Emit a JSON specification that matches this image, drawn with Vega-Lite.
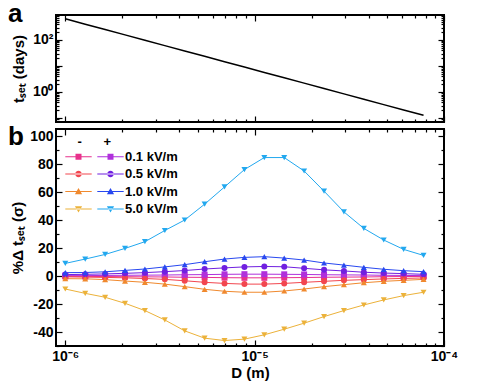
{
  "$schema": "https://vega.github.io/schema/vega-lite/v6.json",
  "padding": {"left": 7, "top": 0, "right": 5, "bottom": 5},
  "spacing": 7,
  "bounds": "flush",
  "config": {
    "font": "Liberation Sans",
    "view": {"stroke": "black", "strokeWidth": 2},
    "axis": {"domain": false, "grid": false, "labelFont": "Liberation Sans", "labelFontSize": 14, "labelFontWeight": "bold", "labelColor": "black", "titleFont": "Liberation Sans", "titleFontSize": 15, "titleFontWeight": "bold", "titleColor": "black", "tickColor": "black", "tickWidth": 1.2, "labelPadding": 9, "labelFlush": false},
    "title": {"font": "Liberation Sans", "fontSize": 26, "fontWeight": "bold", "anchor": "start", "frame": "group", "baseline": "alphabetic", "color": "black"},
    "legend": {"orient": "top-left", "offset": 7, "columns": 2, "columnPadding": 2, "rowPadding": 3.5, "padding": 0,
      "titleFont": "Liberation Sans", "titleFontSize": 13, "titleFontWeight": "bold", "titleColor": "black", "titlePadding": 1,
      "labelFont": "Liberation Sans", "labelFontSize": 13, "labelFontWeight": "bold", "labelColor": "black", "labelOffset": 8,
      "symbolSize": 36, "symbolStrokeWidth": 0, "symbolOffset": 9}
  },
  "datasets": {
    "top": [
      {"D": 1.000e-6, "t": 650}, {"D": 1.274e-6, "t": 404.6}, {"D": 1.623e-6, "t": 251.8}, {"D": 2.067e-6, "t": 156.7}, {"D": 2.633e-6, "t": 97.5}, {"D": 3.354e-6, "t": 60.6}, {"D": 4.272e-6, "t": 37.7}, {"D": 5.442e-6, "t": 23.5}, {"D": 6.932e-6, "t": 14.6}, {"D": 8.830e-6, "t": 9.08}, {"D": 1.1248e-5, "t": 5.65}, {"D": 1.4327e-5, "t": 3.52}, {"D": 1.825e-5, "t": 2.19}, {"D": 2.325e-5, "t": 1.36}, {"D": 2.961e-5, "t": 0.847}, {"D": 3.772e-5, "t": 0.526}, {"D": 4.805e-5, "t": 0.327}, {"D": 6.121e-5, "t": 0.204}, {"D": 7.797e-5, "t": 0.127}
    ],
    "bot": [
      {"s": "0.1-", "D": 1.000e-6, "v": -0.3}, {"s": "0.1-", "D": 1.274e-6, "v": -0.3}, {"s": "0.1-", "D": 1.623e-6, "v": -0.4}, {"s": "0.1-", "D": 2.067e-6, "v": -0.5}, {"s": "0.1-", "D": 2.633e-6, "v": -0.6}, {"s": "0.1-", "D": 3.354e-6, "v": -0.7}, {"s": "0.1-", "D": 4.272e-6, "v": -0.9}, {"s": "0.1-", "D": 5.442e-6, "v": -1.0}, {"s": "0.1-", "D": 6.932e-6, "v": -1.2}, {"s": "0.1-", "D": 8.830e-6, "v": -1.3}, {"s": "0.1-", "D": 1.1248e-5, "v": -1.3}, {"s": "0.1-", "D": 1.4327e-5, "v": -1.2}, {"s": "0.1-", "D": 1.825e-5, "v": -1.1}, {"s": "0.1-", "D": 2.325e-5, "v": -0.9}, {"s": "0.1-", "D": 2.961e-5, "v": -0.8}, {"s": "0.1-", "D": 3.772e-5, "v": -0.7}, {"s": "0.1-", "D": 4.805e-5, "v": -0.5}, {"s": "0.1-", "D": 6.121e-5, "v": -0.4}, {"s": "0.1-", "D": 7.797e-5, "v": -0.3},
      {"s": "0.1+", "D": 1.000e-6, "v": 0.3}, {"s": "0.1+", "D": 1.274e-6, "v": 0.3}, {"s": "0.1+", "D": 1.623e-6, "v": 0.4}, {"s": "0.1+", "D": 2.067e-6, "v": 0.5}, {"s": "0.1+", "D": 2.633e-6, "v": 0.6}, {"s": "0.1+", "D": 3.354e-6, "v": 0.7}, {"s": "0.1+", "D": 4.272e-6, "v": 0.9}, {"s": "0.1+", "D": 5.442e-6, "v": 1.0}, {"s": "0.1+", "D": 6.932e-6, "v": 1.2}, {"s": "0.1+", "D": 8.830e-6, "v": 1.3}, {"s": "0.1+", "D": 1.1248e-5, "v": 1.3}, {"s": "0.1+", "D": 1.4327e-5, "v": 1.2}, {"s": "0.1+", "D": 1.825e-5, "v": 1.1}, {"s": "0.1+", "D": 2.325e-5, "v": 0.9}, {"s": "0.1+", "D": 2.961e-5, "v": 0.8}, {"s": "0.1+", "D": 3.772e-5, "v": 0.7}, {"s": "0.1+", "D": 4.805e-5, "v": 0.5}, {"s": "0.1+", "D": 6.121e-5, "v": 0.4}, {"s": "0.1+", "D": 7.797e-5, "v": 0.3},
      {"s": "0.5-", "D": 1.000e-6, "v": -0.6}, {"s": "0.5-", "D": 1.274e-6, "v": -0.8}, {"s": "0.5-", "D": 1.623e-6, "v": -1.0}, {"s": "0.5-", "D": 2.067e-6, "v": -1.3}, {"s": "0.5-", "D": 2.633e-6, "v": -1.8}, {"s": "0.5-", "D": 3.354e-6, "v": -2.4}, {"s": "0.5-", "D": 4.272e-6, "v": -3.4}, {"s": "0.5-", "D": 5.442e-6, "v": -4.5}, {"s": "0.5-", "D": 6.932e-6, "v": -5.3}, {"s": "0.5-", "D": 8.830e-6, "v": -5.8}, {"s": "0.5-", "D": 1.1248e-5, "v": -5.8}, {"s": "0.5-", "D": 1.4327e-5, "v": -5.3}, {"s": "0.5-", "D": 1.825e-5, "v": -4.5}, {"s": "0.5-", "D": 2.325e-5, "v": -3.8}, {"s": "0.5-", "D": 2.961e-5, "v": -3.1}, {"s": "0.5-", "D": 3.772e-5, "v": -2.6}, {"s": "0.5-", "D": 4.805e-5, "v": -2.1}, {"s": "0.5-", "D": 6.121e-5, "v": -1.7}, {"s": "0.5-", "D": 7.797e-5, "v": -1.4},
      {"s": "0.5+", "D": 1.000e-6, "v": 1.0}, {"s": "0.5+", "D": 1.274e-6, "v": 1.2}, {"s": "0.5+", "D": 1.623e-6, "v": 1.5}, {"s": "0.5+", "D": 2.067e-6, "v": 1.9}, {"s": "0.5+", "D": 2.633e-6, "v": 2.4}, {"s": "0.5+", "D": 3.354e-6, "v": 3.1}, {"s": "0.5+", "D": 4.272e-6, "v": 3.9}, {"s": "0.5+", "D": 5.442e-6, "v": 5.0}, {"s": "0.5+", "D": 6.932e-6, "v": 5.8}, {"s": "0.5+", "D": 8.830e-6, "v": 6.5}, {"s": "0.5+", "D": 1.1248e-5, "v": 6.8}, {"s": "0.5+", "D": 1.4327e-5, "v": 6.6}, {"s": "0.5+", "D": 1.825e-5, "v": 5.5}, {"s": "0.5+", "D": 2.325e-5, "v": 4.4}, {"s": "0.5+", "D": 2.961e-5, "v": 3.6}, {"s": "0.5+", "D": 3.772e-5, "v": 2.7}, {"s": "0.5+", "D": 4.805e-5, "v": 2.1}, {"s": "0.5+", "D": 6.121e-5, "v": 1.7}, {"s": "0.5+", "D": 7.797e-5, "v": 1.2},
      {"s": "1.0-", "D": 1.000e-6, "v": -1.9}, {"s": "1.0-", "D": 1.274e-6, "v": -2.0}, {"s": "1.0-", "D": 1.623e-6, "v": -2.6}, {"s": "1.0-", "D": 2.067e-6, "v": -3.6}, {"s": "1.0-", "D": 2.633e-6, "v": -4.5}, {"s": "1.0-", "D": 3.354e-6, "v": -5.8}, {"s": "1.0-", "D": 4.272e-6, "v": -7.6}, {"s": "1.0-", "D": 5.442e-6, "v": -9.5}, {"s": "1.0-", "D": 6.932e-6, "v": -10.9}, {"s": "1.0-", "D": 8.830e-6, "v": -11.6}, {"s": "1.0-", "D": 1.1248e-5, "v": -11.6}, {"s": "1.0-", "D": 1.4327e-5, "v": -10.7}, {"s": "1.0-", "D": 1.825e-5, "v": -9.3}, {"s": "1.0-", "D": 2.325e-5, "v": -7.6}, {"s": "1.0-", "D": 2.961e-5, "v": -6.2}, {"s": "1.0-", "D": 3.772e-5, "v": -4.8}, {"s": "1.0-", "D": 4.805e-5, "v": -3.8}, {"s": "1.0-", "D": 6.121e-5, "v": -3.1}, {"s": "1.0-", "D": 7.797e-5, "v": -2.4},
      {"s": "1.0+", "D": 1.000e-6, "v": 2.4}, {"s": "1.0+", "D": 1.274e-6, "v": 2.5}, {"s": "1.0+", "D": 1.623e-6, "v": 3.0}, {"s": "1.0+", "D": 2.067e-6, "v": 4.0}, {"s": "1.0+", "D": 2.633e-6, "v": 5.0}, {"s": "1.0+", "D": 3.354e-6, "v": 6.5}, {"s": "1.0+", "D": 4.272e-6, "v": 8.1}, {"s": "1.0+", "D": 5.442e-6, "v": 10.2}, {"s": "1.0+", "D": 6.932e-6, "v": 12.1}, {"s": "1.0+", "D": 8.830e-6, "v": 13.3}, {"s": "1.0+", "D": 1.1248e-5, "v": 13.8}, {"s": "1.0+", "D": 1.4327e-5, "v": 12.8}, {"s": "1.0+", "D": 1.825e-5, "v": 11.4}, {"s": "1.0+", "D": 2.325e-5, "v": 9.3}, {"s": "1.0+", "D": 2.961e-5, "v": 7.8}, {"s": "1.0+", "D": 3.772e-5, "v": 6.2}, {"s": "1.0+", "D": 4.805e-5, "v": 4.8}, {"s": "1.0+", "D": 6.121e-5, "v": 3.8}, {"s": "1.0+", "D": 7.797e-5, "v": 3.1},
      {"s": "5.0-", "D": 1.000e-6, "v": -9.3}, {"s": "5.0-", "D": 1.274e-6, "v": -12.4}, {"s": "5.0-", "D": 1.623e-6, "v": -15.2}, {"s": "5.0-", "D": 2.067e-6, "v": -19.5}, {"s": "5.0-", "D": 2.633e-6, "v": -24.7}, {"s": "5.0-", "D": 3.354e-6, "v": -31.4}, {"s": "5.0-", "D": 4.272e-6, "v": -39.2}, {"s": "5.0-", "D": 5.442e-6, "v": -44.4}, {"s": "5.0-", "D": 6.932e-6, "v": -46.1}, {"s": "5.0-", "D": 8.830e-6, "v": -45.1}, {"s": "5.0-", "D": 1.1248e-5, "v": -42.0}, {"s": "5.0-", "D": 1.4327e-5, "v": -38.0}, {"s": "5.0-", "D": 1.825e-5, "v": -33.7}, {"s": "5.0-", "D": 2.325e-5, "v": -29.0}, {"s": "5.0-", "D": 2.961e-5, "v": -24.7}, {"s": "5.0-", "D": 3.772e-5, "v": -20.7}, {"s": "5.0-", "D": 4.805e-5, "v": -17.1}, {"s": "5.0-", "D": 6.121e-5, "v": -14.0}, {"s": "5.0-", "D": 7.797e-5, "v": -11.6},
      {"s": "5.0+", "D": 1.000e-6, "v": 9.0}, {"s": "5.0+", "D": 1.274e-6, "v": 12.1}, {"s": "5.0+", "D": 1.623e-6, "v": 15.4}, {"s": "5.0+", "D": 2.067e-6, "v": 19.7}, {"s": "5.0+", "D": 2.633e-6, "v": 24.5}, {"s": "5.0+", "D": 3.354e-6, "v": 32.5}, {"s": "5.0+", "D": 4.272e-6, "v": 40.0}, {"s": "5.0+", "D": 5.442e-6, "v": 51.3}, {"s": "5.0+", "D": 6.932e-6, "v": 63.6}, {"s": "5.0+", "D": 8.830e-6, "v": 76.0}, {"s": "5.0+", "D": 1.1248e-5, "v": 84.6}, {"s": "5.0+", "D": 1.4327e-5, "v": 84.6}, {"s": "5.0+", "D": 1.825e-5, "v": 75.0}, {"s": "5.0+", "D": 2.325e-5, "v": 60.6}, {"s": "5.0+", "D": 2.961e-5, "v": 45.8}, {"s": "5.0+", "D": 3.772e-5, "v": 34.0}, {"s": "5.0+", "D": 4.805e-5, "v": 25.7}, {"s": "5.0+", "D": 6.121e-5, "v": 19.0}, {"s": "5.0+", "D": 7.797e-5, "v": 14.7}
    ]
  },
  "vconcat": [
    {
      "width": 388,
      "height": 107,
      "title": {"text": "a", "dx": -48, "offset": -13},
      "data": {"name": "top"},
      "layer": [
        {
          "mark": {"type": "line", "color": "black", "strokeWidth": 1.5},
          "encoding": {
            "x": {"field": "D", "type": "quantitative", "scale": {"type": "log", "domain": [8.93e-7, 1e-4], "nice": false},
              "axis": {"orient": "bottom", "labels": false, "title": null, "values": [1e-6, 2e-6, 3e-6, 4e-6, 5e-6, 6e-6, 7e-6, 8e-6, 9e-6, 1e-5, 2e-5, 3e-5, 4e-5, 5e-5, 6e-5, 7e-5, 8e-5, 9e-5, 1e-4],
                "tickSize": {"condition": {"test": "abs(log(datum.value)/LN10 - round(log(datum.value)/LN10)) < 0.001", "value": -6}, "value": -3}}},
            "y": {"field": "t", "type": "quantitative", "scale": {"type": "log", "domain": [0.0702, 912], "nice": false},
              "axis": {"orient": "left", "title": "tₛₑₜ (days)", "titlePadding": 6, "values": [0.08, 0.09, 0.1, 0.2, 0.3, 0.4, 0.5, 0.6, 0.7, 0.8, 0.9, 1, 2, 3, 4, 5, 6, 7, 8, 9, 10, 20, 30, 40, 50, 60, 70, 80, 90, 100, 200, 300, 400, 500, 600, 700, 800, 900],
                "labelExpr": "datum.value == 1 ? '10⁰' : datum.value == 100 ? '10²' : ''",
                "tickSize": {"condition": {"test": "abs(log(datum.value)/LN10 - round(log(datum.value)/LN10)) < 0.001", "value": -6}, "value": -3}}}
          }
        },
        {
          "mark": {"type": "line", "opacity": 0},
          "encoding": {
            "x": {"field": "D", "type": "quantitative",
              "axis": {"orient": "top", "labels": false, "title": null, "values": [1e-6, 2e-6, 3e-6, 4e-6, 5e-6, 6e-6, 7e-6, 8e-6, 9e-6, 1e-5, 2e-5, 3e-5, 4e-5, 5e-5, 6e-5, 7e-5, 8e-5, 9e-5, 1e-4],
                "tickSize": {"condition": {"test": "abs(log(datum.value)/LN10 - round(log(datum.value)/LN10)) < 0.001", "value": -6}, "value": -3}}},
            "y": {"field": "t", "type": "quantitative",
              "axis": {"orient": "right", "labels": false, "title": null, "values": [0.08, 0.09, 0.1, 0.2, 0.3, 0.4, 0.5, 0.6, 0.7, 0.8, 0.9, 1, 2, 3, 4, 5, 6, 7, 8, 9, 10, 20, 30, 40, 50, 60, 70, 80, 90, 100, 200, 300, 400, 500, 600, 700, 800, 900],
                "tickSize": {"condition": {"test": "abs(log(datum.value)/LN10 - round(log(datum.value)/LN10)) < 0.001", "value": -6}, "value": -3}}}
          }
        }
      ],
      "resolve": {"axis": {"x": "independent", "y": "independent"}}
    },
    {
      "width": 388,
      "height": 217,
      "title": {"text": "b", "dx": -48, "offset": -22},
      "data": {"name": "bot"},
      "layer": [
        {
          "mark": {"type": "line", "strokeWidth": 1},
          "encoding": {
            "x": {"field": "D", "type": "quantitative", "scale": {"type": "log", "domain": [8.93e-7, 1e-4], "nice": false},
              "axis": {"orient": "bottom", "title": "D (m)", "titlePadding": 2, "values": [1e-6, 2e-6, 3e-6, 4e-6, 5e-6, 6e-6, 7e-6, 8e-6, 9e-6, 1e-5, 2e-5, 3e-5, 4e-5, 5e-5, 6e-5, 7e-5, 8e-5, 9e-5, 1e-4],
                "labelExpr": "datum.value == 1e-6 ? '10⁻⁶' : datum.value == 1e-5 ? '10⁻⁵' : datum.value == 1e-4 ? '10⁻⁴' : ''",
                "tickSize": {"condition": {"test": "abs(log(datum.value)/LN10 - round(log(datum.value)/LN10)) < 0.001", "value": -6}, "value": -3}}},
            "y": {"field": "v", "type": "quantitative", "scale": {"domain": [-50, 105], "nice": false, "zero": false},
              "axis": {"orient": "left", "title": "%Δ tₛₑₜ (σ)", "titlePadding": 4, "values": [-50, -40, -30, -20, -10, 0, 10, 20, 30, 40, 50, 60, 70, 80, 90, 100],
                "labelExpr": "(datum.value % 20 == 0 && datum.value >= -40) ? datum.value + '' : ''",
                "tickSize": {"condition": {"test": "datum.value % 20 == 0", "value": -6}, "value": -3}}},
            "color": {"field": "s", "type": "nominal", "legend": null,
              "scale": {"domain": ["0.1-", "0.5-", "1.0-", "5.0-", "0.1+", "0.5+", "1.0+", "5.0+"], "range": ["#e8318c", "#f2464f", "#f0892e", "#ecb23a", "#b030dc", "#7020e0", "#2848f0", "#22a8ef"]}},
            "detail": {"field": "s"}
          }
        },
        {
          "mark": {"type": "point", "filled": true, "size": 36, "opacity": 1},
          "encoding": {
            "x": {"field": "D", "type": "quantitative", "axis": null},
            "y": {"field": "v", "type": "quantitative", "axis": null},
            "color": {"field": "s", "type": "nominal", "legend": null,
              "scale": {"domain": ["0.1-", "0.5-", "1.0-", "5.0-", "0.1+", "0.5+", "1.0+", "5.0+"], "range": ["#e8318c", "#f2464f", "#f0892e", "#ecb23a", "#b030dc", "#7020e0", "#2848f0", "#22a8ef"]}},
            "shape": {"field": "s", "type": "nominal", "legend": null,
              "scale": {"domain": ["0.1-", "0.5-", "1.0-", "5.0-", "0.1+", "0.5+", "1.0+", "5.0+"], "range": ["square", "circle", "triangle-up", "triangle-down", "square", "circle", "triangle-up", "triangle-down"]}}
          }
        },
        {
          "mark": {"type": "point", "filled": true, "size": 36, "opacity": 0},
          "encoding": {
            "x": {"field": "D", "type": "quantitative",
              "axis": {"orient": "top", "labels": false, "title": null, "values": [1e-6, 2e-6, 3e-6, 4e-6, 5e-6, 6e-6, 7e-6, 8e-6, 9e-6, 1e-5, 2e-5, 3e-5, 4e-5, 5e-5, 6e-5, 7e-5, 8e-5, 9e-5, 1e-4],
                "tickSize": {"condition": {"test": "abs(log(datum.value)/LN10 - round(log(datum.value)/LN10)) < 0.001", "value": -6}, "value": -3}}},
            "y": {"field": "v", "type": "quantitative",
              "axis": {"orient": "right", "labels": false, "title": null, "values": [-50, -40, -30, -20, -10, 0, 10, 20, 30, 40, 50, 60, 70, 80, 90, 100],
                "tickSize": {"condition": {"test": "datum.value % 20 == 0", "value": -6}, "value": -3}}},
            "color": {"field": "s", "type": "nominal",
              "scale": {"domain": ["0.1-", "0.5-", "1.0-", "5.0-", "0.1+", "0.5+", "1.0+", "5.0+"], "range": ["#e8318c", "#f2464f", "#f0892e", "#ecb23a", "#b030dc", "#7020e0", "#2848f0", "#22a8ef"]},
              "legend": {
                "title": "\u200b\u00a0\u00a0\u00a0\u00a0-\u00a0\u00a0\u00a0\u00a0\u00a0\u00a0+",
                "labelExpr": "indexof(datum.label, '+') >= 0 ? substring(datum.label, 0, 3) + ' kV/m' : ''",
                "encode": {"symbols": {"update": {"opacity": {"value": 1}, "fillOpacity": {"value": 1}}}}
              }},
            "shape": {"field": "s", "type": "nominal",
              "scale": {"domain": ["0.1-", "0.5-", "1.0-", "5.0-", "0.1+", "0.5+", "1.0+", "5.0+"], "range": [
                "M-4.4,-0.17H4.4V0.17H-4.4ZM-1,-1H1V1H-1Z",
                "M-4.4,-0.17H4.4V0.17H-4.4ZM-1.1,0A1.1,1.1,0,1,0,1.1,0A1.1,1.1,0,1,0,-1.1,0Z",
                "M-4.4,-0.17H4.4V0.17H-4.4ZM0,-1.2L1.2,0.9H-1.2Z",
                "M-4.4,-0.17H4.4V0.17H-4.4ZM0,1.2L1.2,-0.9H-1.2Z",
                "M-4.4,-0.17H4.4V0.17H-4.4ZM-1,-1H1V1H-1Z",
                "M-4.4,-0.17H4.4V0.17H-4.4ZM-1.1,0A1.1,1.1,0,1,0,1.1,0A1.1,1.1,0,1,0,-1.1,0Z",
                "M-4.4,-0.17H4.4V0.17H-4.4ZM0,-1.2L1.2,0.9H-1.2Z",
                "M-4.4,-0.17H4.4V0.17H-4.4ZM0,1.2L1.2,-0.9H-1.2Z"]},
              "legend": {
                "title": "\u200b\u00a0\u00a0\u00a0\u00a0-\u00a0\u00a0\u00a0\u00a0\u00a0\u00a0+",
                "labelExpr": "indexof(datum.label, '+') >= 0 ? substring(datum.label, 0, 3) + ' kV/m' : ''",
                "encode": {"symbols": {"update": {"opacity": {"value": 1}, "fillOpacity": {"value": 1}}}}
              }}
          }
        }
      ],
      "resolve": {"axis": {"x": "independent", "y": "independent"}, "scale": {"shape": "independent", "color": "independent"}, "legend": {"shape": "independent", "color": "independent"}}
    }
  ]
}
